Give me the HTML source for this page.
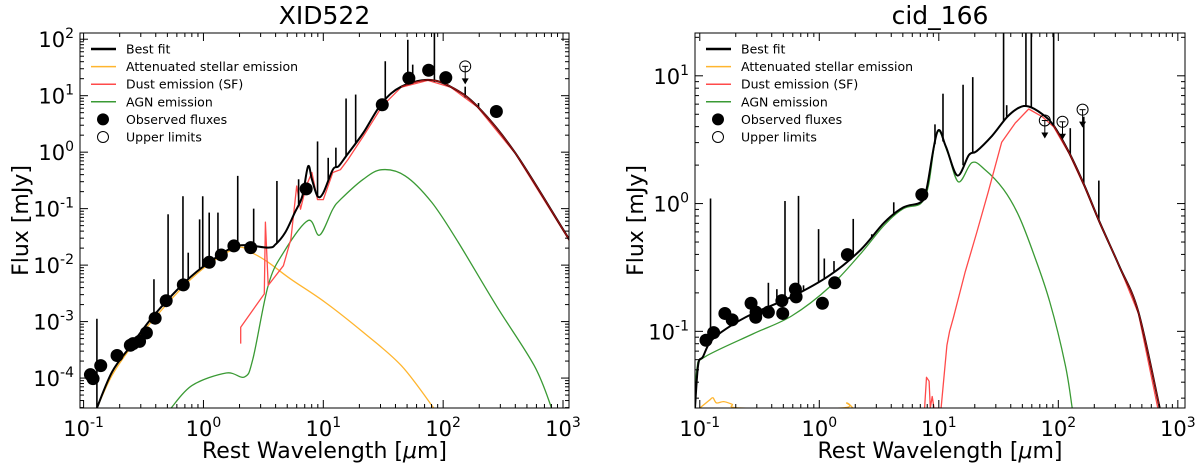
<!DOCTYPE html>
<html><head><meta charset="utf-8"><style>
body{margin:0;background:#fff;}
svg{display:block;font-family:"DejaVu Sans","Liberation Sans",sans-serif;}
</style></head><body>
<svg id="c" width="1200" height="468" viewBox="0 0 1200 468"></svg>
<script>
// ---- Panel A: XID522 (log10 wavelength, log10 flux) ----
const aObsX=[-0.943,-0.921,-0.857,-0.721,-0.610,-0.587,-0.533,-0.476,-0.403,-0.311,-0.168,0.048,0.149,0.254,0.394,0.857,1.492,1.714,1.879,2.022,2.444];
const aObsY=[-3.94,-4.01,-3.78,-3.60,-3.42,-3.39,-3.35,-3.20,-2.94,-2.63,-2.35,-1.95,-1.82,-1.66,-1.69,-0.65,0.84,1.31,1.45,1.32,0.72];
const aUlX=[2.184];
const aUlY=[1.52];
const aFitX=[-0.889,-0.762,-0.603,-0.413,-0.159,0.048,0.286,0.540,0.603,0.683,0.762,0.825,0.873,0.905,0.952,1.0,1.079,1.127,1.19,1.333,1.49,1.65,1.873,2.063,2.286,2.60,3.016,3.1];
const aFitY=[-4.53,-3.89,-3.42,-2.89,-2.31,-1.95,-1.66,-1.69,-1.63,-1.42,-1.07,-0.78,-0.25,-0.48,-0.78,-0.72,-0.31,-0.25,-0.07,0.34,0.87,1.16,1.28,1.16,0.81,-0.01,-1.42,-1.72];
const aStarX=[-0.889,-0.762,-0.603,-0.413,-0.159,0.048,0.286,0.413,0.54,0.73,1.016,1.333,1.651,1.921];
const aStarY=[-4.53,-3.95,-3.45,-2.95,-2.36,-1.98,-1.69,-1.79,-1.95,-2.25,-2.66,-3.19,-3.78,-4.53];
const aDustX=[0.311,0.311,0.508,0.517,0.54,0.667,0.73,0.778,0.81,0.857,0.905,0.952,1.0,1.079,1.143,1.206,1.333,1.49,1.65,1.873,2.063,2.286,2.60,3.016,3.1];
const aDustY=[-3.39,-3.10,-2.51,-1.24,-2.36,-2.01,-1.54,-0.6,-1.01,-0.6,-0.36,-0.84,-0.84,-0.36,-0.31,-0.13,0.28,0.81,1.15,1.27,1.15,0.80,-0.02,-1.44,-1.74];
const aAgnX=[-0.27,-0.095,0.19,0.343,0.413,0.54,0.667,0.873,0.968,1.079,1.143,1.333,1.49,1.683,1.905,2.127,2.444,2.76,2.905];
const aAgnY=[-4.53,-4.13,-3.91,-3.98,-3.66,-2.36,-1.78,-1.21,-1.47,-1.01,-0.84,-0.48,-0.31,-0.42,-0.89,-1.6,-2.72,-3.78,-4.53];
const aLineX=[-0.889,-0.413,-0.295,-0.171,-0.127,-0.032,-0.006,0.048,0.121,0.286,0.419,0.613,0.794,0.952,1.041,1.105,1.19,1.27,1.517,1.705,1.746,1.927,2.184,2.295];
const aLineY=[-2.95,-2.25,-1.10,-0.78,-1.78,-1.19,-0.78,-1.07,-1.07,-0.42,-1.0,-0.51,-0.48,0.19,-0.1,0.08,0.95,1.02,1.61,1.99,1.55,2.2,1.16,0.87];
const aYTicks=[-4,-3,-2,-1,0,1,2];
const xTicks=[-1,0,1,2,3];
// ---- Panel B: cid_166 ----
const bObsX=[-0.948,-0.884,-0.79,-0.729,-0.571,-0.532,-0.529,-0.426,-0.313,-0.306,-0.2,-0.194,0.026,0.129,0.235,0.858];
const bObsY=[-1.07,-1.01,-0.86,-0.91,-0.78,-0.89,-0.85,-0.85,-0.76,-0.86,-0.67,-0.73,-0.78,-0.62,-0.40,0.07];
const bUlX=[1.887,2.035,2.203];
const bUlY=[0.65,0.64,0.735];
const bFitX=[-1.04,-1.013,-0.974,-0.91,-0.78,-0.555,-0.232,0.09,0.348,0.542,0.703,0.848,0.897,0.987,1.058,1.155,1.252,1.316,1.445,1.574,1.671,1.752,1.865,1.961,2.09,2.219,2.348,2.51,2.67,2.848];
const bFitY=[-1.6,-1.26,-1.2,-1.08,-0.98,-0.86,-0.73,-0.56,-0.36,-0.15,-0.03,0.01,0.11,0.56,0.45,0.22,0.38,0.41,0.53,0.68,0.75,0.76,0.70,0.61,0.40,0.14,-0.15,-0.49,-0.85,-1.6];
const bAgnX=[-1.04,-1.023,-0.958,-0.555,-0.232,0.09,0.348,0.542,0.703,0.848,0.913,0.987,1.074,1.165,1.277,1.381,1.542,1.671,1.8,1.929,2.058,2.116];
const bAgnY=[-1.6,-1.29,-1.2,-1.02,-0.88,-0.65,-0.39,-0.17,-0.04,0,0.14,0.56,0.40,0.17,0.32,0.27,0.11,-0.10,-0.41,-0.77,-1.26,-1.6];
const bDustX=[0.881,0.897,0.919,0.929,0.945,0.96,1.019,1.068,1.09,1.123,1.219,1.316,1.413,1.526,1.639,1.752,1.865,1.961,2.09,2.219,2.348,2.51,2.67,2.832];
const bDustY=[-1.6,-1.36,-1.39,-1.6,-1.51,-1.6,-1.6,-1.11,-1.0,-0.89,-0.54,-0.23,0.09,0.48,0.63,0.74,0.68,0.60,0.39,0.13,-0.16,-0.49,-0.86,-1.6];
const bStarX=[-1.0,-0.92,-0.89,-0.86,-0.8,-0.73,-0.65,0.18,0.23,0.28];
const bStarY=[-1.6,-1.54,-1.52,-1.56,-1.55,-1.57,-1.6,-1.6,-1.56,-1.6];
const bLineX=[-0.91,-0.426,-0.355,-0.287,-0.174,-0.132,-0.006,0.042,0.123,0.284,0.439,0.623,0.968,1.035,1.203,1.284,1.542,1.568,1.729,1.774,1.961,2.1,2.213,2.339];
const bLineY=[0.04,-0.62,-0.67,0.02,0.06,-0.64,-0.2,-0.43,-0.45,-0.12,-0.24,0.01,0.62,0.86,0.93,0.99,1.5,0.77,1.5,1.5,1.5,0.59,0.68,0.18];
const bYTicks=[-1,0,1];

const NS="http://www.w3.org/2000/svg";
const svg=document.getElementById('c');
function mk(tag,attrs,parent){const e=document.createElementNS(NS,tag);for(const k in attrs)e.setAttribute(k,attrs[k]);(parent||svg).appendChild(e);return e;}
function interp(xs,ys,x){if(x<=xs[0])return ys[0];for(let i=1;i<xs.length;i++){if(x<=xs[i]){const t=(x-xs[i-1])/(xs[i]-xs[i-1]||1);return ys[i-1]+t*(ys[i]-ys[i-1]);}}return ys[ys.length-1];}
function smoothPath(P){
  let d='M'+P[0][0].toFixed(1)+' '+P[0][1].toFixed(1);
  for(let i=0;i<P.length-1;i++){
    const p0=P[Math.max(0,i-1)],p1=P[i],p2=P[i+1],p3=P[Math.min(P.length-1,i+2)];
    const c1x=p1[0]+(p2[0]-p0[0])/6,c1y=p1[1]+(p2[1]-p0[1])/6;
    const c2x=p2[0]-(p3[0]-p1[0])/6,c2y=p2[1]-(p3[1]-p1[1])/6;
    d+=` C${c1x.toFixed(1)} ${c1y.toFixed(1)} ${c2x.toFixed(1)} ${c2y.toFixed(1)} ${p2[0].toFixed(1)} ${p2[1].toFixed(1)}`;
  }
  return d;
}

function panel(p){
  const sx=v=>p.x0+(v-p.lx0)/(p.lx1-p.lx0)*(p.x1-p.x0);
  const sy=v=>p.y1-(v-p.ly0)/(p.ly1-p.ly0)*(p.y1-p.y0);
  const g=mk('g',{});
  
  
  const cp=mk('clipPath',{id:p.id+'-clip'},g);
  mk('rect',{x:p.x0,y:p.y0,width:p.x1-p.x0,height:p.y1-p.y0},cp);
  const t=mk('text',{x:(p.x0+p.x1)/2,y:24,'text-anchor':'middle','font-size':25},g);
  t.textContent=p.title;
  
  
  const plot=mk('g',{'clip-path':'url(#'+p.id+'-clip)'},g);
  function line(xs,ys,col,w,name,smooth){
    const P=xs.map((x,i)=>[sx(x),sy(ys[i])]);
    const d=smooth?smoothPath(P):P.map((q,i)=>(i?'L':'M')+q[0].toFixed(1)+' '+q[1].toFixed(1)).join(' ');
    const e=mk('path',{d:d,fill:'none',stroke:col,'stroke-width':w,'stroke-linejoin':'round'},plot);
    
    
  }
  line(p.starX,p.starY,'#ffb52e',1.3,'stellar-emission-line',true);
  line(p.agnX,p.agnY,'#3a9a34',1.3,'agn-emission-line',true);
  line(p.dustX,p.dustY,'#ff4a4a',1.3,'dust-emission-line',false);
  line(p.fitX,p.fitY,'#000',2,'best-fit-line',true);
  p.lineX.forEach((x,i)=>{
    const b=interp(p.fitX,p.fitY,x);
    const e=mk('line',{x1:sx(x),x2:sx(x),y1:sy(b),y2:sy(p.lineY[i]),stroke:'#000','stroke-width':1.6},plot);
    
    
  });
  const ox=p.fitX.filter(x=>x>=p.ovStart);
  line(ox,ox.map(x=>interp(p.fitX,p.fitY,x)),'#a01010',1.2,'dust-overlap-line',true);
  p.obsX.forEach((x,i)=>{
    const e=mk('circle',{cx:sx(x),cy:sy(p.obsY[i]),r:6.5,fill:'#000'},plot);
    
    
  });
  p.ulX.forEach((x,i)=>{
    const cx=sx(x),cy=sy(p.ulY[i]);
    const e=mk('g',{},plot);
    
    
    mk('circle',{cx:cx,cy:cy,r:5.5,fill:'none',stroke:'#000','stroke-width':1},e);
    mk('line',{x1:cx-3,x2:cx+3,y1:cy,y2:cy,stroke:'#000','stroke-width':1},e);
    mk('line',{x1:cx,x2:cx,y1:cy,y2:cy+14,stroke:'#000','stroke-width':1},e);
    mk('path',{d:`M${cx-3.5} ${cy+12} L${cx+3.5} ${cy+12} L${cx} ${cy+18} Z`,fill:'#000'},e);
  });
  const fr=mk('rect',{x:p.x0,y:p.y0,width:p.x1-p.x0,height:p.y1-p.y0,fill:'none',stroke:'#000','stroke-width':1},g);
  
  
  const tk=mk('g',{stroke:'#000','stroke-width':1},g);
  for(let d=Math.floor(p.lx0);d<=Math.ceil(p.lx1);d++)for(let m=1;m<10;m++){
    const v=d+Math.log10(m);if(v<p.lx0||v>p.lx1)continue;const L=m===1?8:4;const X=sx(v);
    mk('line',{x1:X,x2:X,y1:p.y1,y2:p.y1-L},tk);mk('line',{x1:X,x2:X,y1:p.y0,y2:p.y0+L},tk);}
  for(let d=Math.floor(p.ly0);d<=Math.ceil(p.ly1);d++)for(let m=1;m<10;m++){
    const v=d+Math.log10(m);if(v<p.ly0||v>p.ly1)continue;const L=m===1?8:4;const Y=sy(v);
    mk('line',{x1:p.x0,x2:p.x0+L,y1:Y,y2:Y},tk);mk('line',{x1:p.x1,x2:p.x1-L,y1:Y,y2:Y},tk);}
  xTicks.forEach(v=>{
    const e=mk('text',{x:sx(v),y:p.y1+28,'text-anchor':'middle','font-size':21},g);
    e.innerHTML='10<tspan dy="-9" font-size="14">'+v+'</tspan>';
    
    
  });
  p.yTicks.forEach(v=>{
    const e=mk('text',{x:p.x0-6,y:sy(v)+8,'text-anchor':'end','font-size':21},g);
    e.innerHTML='10<tspan dy="-9" font-size="14">'+v+'</tspan>';
    
    
  });
  const xl=mk('text',{x:(p.x0+p.x1)/2,y:458,'text-anchor':'middle','font-size':22},g);
  xl.innerHTML='Rest Wavelength [<tspan font-style="italic">μ</tspan>m]';
  
  
  const yl=mk('text',{x:0,y:0,'text-anchor':'middle','font-size':22,transform:`translate(${p.ylx},${(p.y0+p.y1)/2}) rotate(-90)`},g);
  yl.textContent='Flux [mJy]';
  
  
  const lg=mk('g',{'font-size':12.5},g);
  
  
  const items=[['Best fit','#000',2.5,'l'],['Attenuated stellar emission','#ffb52e',1.5,'l'],['Dust emission (SF)','#ff4a4a',1.5,'l'],['AGN emission','#3a9a34',1.5,'l'],['Observed fluxes','#000',0,'f'],['Upper limits','#000',0,'o']];
  items.forEach((it,i)=>{
    const y=49+i*17.6;const lx=p.x0+11;
    const row=mk('g',{},lg);
    
    
    if(it[3]==='l')mk('line',{x1:lx,x2:lx+25,y1:y,y2:y,stroke:it[1],'stroke-width':it[2]},row);
    else mk('circle',{cx:lx+12,cy:y,r:5.5,fill:it[3]==='f'?'#000':'none',stroke:'#000','stroke-width':1},row);
    const tx=mk('text',{x:lx+35,y:y+4.5},row);tx.textContent=it[0];
  });
}
panel({id:'xid522',title:'XID522',x0:80,x1:569,y0:33,y1:408,lx0:-1.03,lx1:3.05,ly0:-4.53,ly1:2.11,ylx:28,ovStart:1.6,
 obsX:aObsX,obsY:aObsY,ulX:aUlX,ulY:aUlY,fitX:aFitX,fitY:aFitY,starX:aStarX,starY:aStarY,dustX:aDustX,dustY:aDustY,agnX:aAgnX,agnY:aAgnY,lineX:aLineX,lineY:aLineY,yTicks:aYTicks});
panel({id:'cid166',title:'cid_166',x0:695,x1:1185,y0:33,y1:408,lx0:-1.04,lx1:3.06,ly0:-1.6,ly1:1.335,ylx:643,ovStart:1.95,
 obsX:bObsX,obsY:bObsY,ulX:bUlX,ulY:bUlY,fitX:bFitX,fitY:bFitY,starX:bStarX,starY:bStarY,dustX:bDustX,dustY:bDustY,agnX:bAgnX,agnY:bAgnY,lineX:bLineX,lineY:bLineY,yTicks:bYTicks});
</script>
</body></html>
